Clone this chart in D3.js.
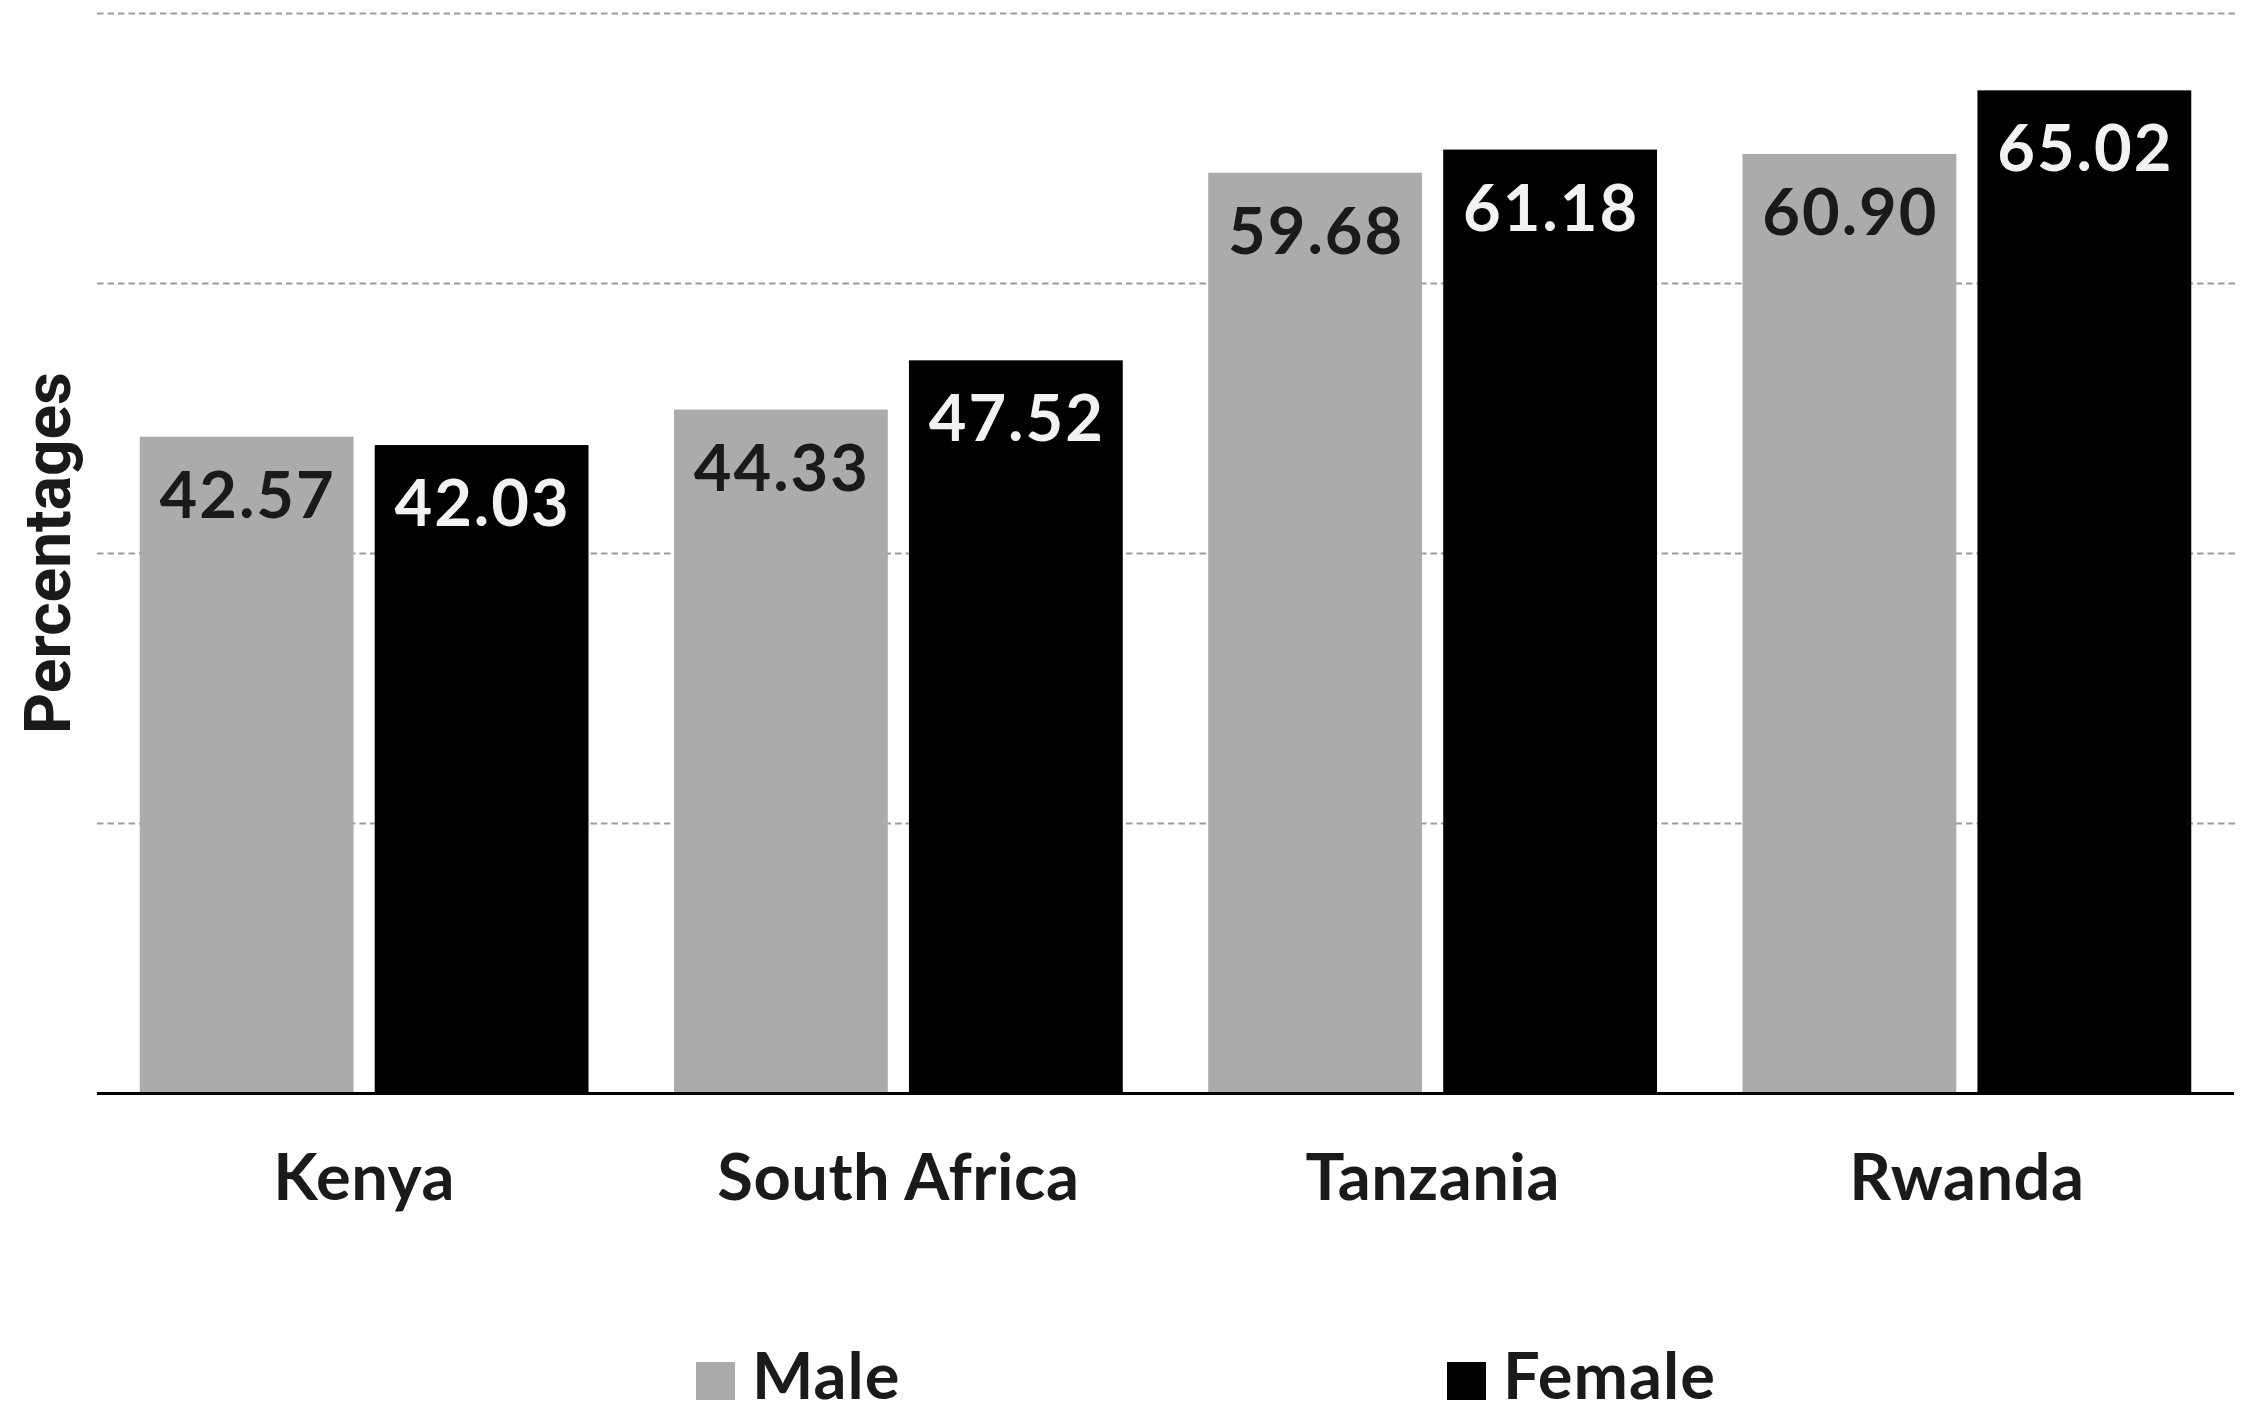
<!DOCTYPE html>
<html>
<head>
<meta charset="utf-8">
<script src="https://cdn.jsdelivr.net/npm/d3@7"></script>
<style>
  html, body { margin: 0; padding: 0; background: #ffffff; }
  svg { display: block; }
</style>
</head>
<body>
<svg id="chart" width="2241" height="1413"></svg>
<script>
// Share of respondents (%) by country and sex
const categories = ["Kenya", "South Africa", "Tanzania", "Rwanda"];
const series = ["Male", "Female"];
const maleValues = [42.57, 44.33, 59.68, 60.90];
const femaleValues = [42.03, 47.52, 61.18, 65.02];
const gridTicks = [17.5, 35, 52.5, 70];
const yDomain = [0, 70];
const yTitle = "Percentages";

const colors = { Male: "#ababab", Female: "#000000" };
const labelColors = { Male: "#1a1a1a", Female: "#f2f2f2" };

const rows = categories.map((c, i) => ({
  category: c,
  values: [
    { key: "Male", value: maleValues[i] },
    { key: "Female", value: femaleValues[i] }
  ]
}));

const svg = d3.select("#chart");
const plot = { left: 97, right: 2234, top: 13.5, bottom: 1093.5 };

const x0 = d3.scaleBand()
  .domain(categories)
  .range([plot.left, plot.right])
  .paddingInner(0.16)
  .paddingOuter(0.08);

const x1 = d3.scaleBand()
  .domain(series)
  .range([0, x0.bandwidth()])
  .paddingInner(0.09)
  .paddingOuter(0);

const y = d3.scaleLinear().domain(yDomain).range([plot.bottom, plot.top]);

// dashed horizontal gridlines
svg.append("g")
  .selectAll("line")
  .data(gridTicks)
  .join("line")
  .attr("x1", plot.left)
  .attr("x2", plot.right + 4)
  .attr("y1", d => y(d))
  .attr("y2", d => y(d))
  .attr("stroke", "#9c9c9c")
  .attr("stroke-width", 2)
  .attr("stroke-dasharray", "6.5,4");

// grouped bars
const groups = svg.append("g")
  .selectAll("g")
  .data(rows)
  .join("g")
  .attr("transform", d => `translate(${x0(d.category)},0)`);

groups.selectAll("rect")
  .data(d => d.values)
  .join("rect")
  .attr("x", d => x1(d.key))
  .attr("y", d => y(d.value))
  .attr("width", x1.bandwidth())
  .attr("height", d => y(0) - y(d.value))
  .attr("fill", d => colors[d.key]);

// value labels inside the top of each bar
groups.selectAll("text")
  .data(d => d.values)
  .join("text")
  .attr("x", d => x1(d.key) + x1.bandwidth() / 2 + 1)
  .attr("y", d => y(d.value) + 81)
  .attr("text-anchor", "middle")
  .attr("font-family", "Lato, 'Open Sans', sans-serif")
  .attr("font-weight", 700)
  .attr("font-size", 65)
  .attr("letter-spacing", 2)
  .attr("fill", d => labelColors[d.key])
  .text(d => d.value.toFixed(2));

// baseline
svg.append("line")
  .attr("x1", plot.left)
  .attr("x2", plot.right)
  .attr("y1", y(0))
  .attr("y2", y(0))
  .attr("stroke", "#000000")
  .attr("stroke-width", 3);

// category axis
const xAxis = d3.axisBottom(x0).tickSize(0).tickPadding(0);
const xg = svg.append("g")
  .attr("transform", `translate(0,${y(0)})`)
  .call(xAxis);
xg.select(".domain").remove();
xg.selectAll("text")
  .attr("dy", null)
  .attr("y", 106)
  .attr("font-family", "Lato, 'Open Sans', sans-serif")
  .attr("font-weight", 700)
  .attr("font-size", 65)
  .attr("letter-spacing", 0.5)
  .attr("fill", "#1a1a1a");

// y-axis title
svg.append("text")
  .attr("transform", "translate(70,553) rotate(-90)")
  .attr("text-anchor", "middle")
  .attr("font-family", "Roboto, 'Liberation Sans', sans-serif")
  .attr("font-weight", 700)
  .attr("font-size", 64)
  .attr("fill", "#1a1a1a")
  .text(yTitle);

// legend
const legendX = d3.scaleOrdinal().domain(series).range([696, 1447]);
const legend = svg.append("g")
  .selectAll("g")
  .data(series)
  .join("g")
  .attr("transform", d => `translate(${legendX(d)},1362)`);

legend.append("rect")
  .attr("width", 39)
  .attr("height", 38)
  .attr("fill", d => colors[d]);

legend.append("text")
  .attr("x", 56)
  .attr("y", 37)
  .attr("font-family", "Lato, 'Open Sans', sans-serif")
  .attr("font-weight", 700)
  .attr("font-size", 65)
  .attr("letter-spacing", 1)
  .attr("fill", "#1a1a1a")
  .text(d => d);
</script>
</body>
</html>
